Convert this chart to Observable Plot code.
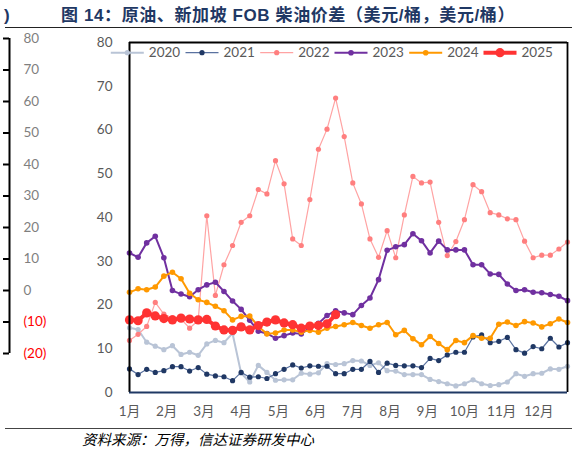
<!DOCTYPE html>
<html><head><meta charset="utf-8">
<script src="https://cdn.jsdelivr.net/npm/d3@7"></script>
<script src="https://cdn.jsdelivr.net/npm/@observablehq/plot@0.6"></script>
<style>
html,body{margin:0;padding:0;background:#fff;}
#wrap{position:relative;width:577px;height:452px;overflow:hidden;}
.abs{position:absolute;}
#title{left:61px;top:5px;font-weight:bold;font-size:17px;letter-spacing:0.6px;line-height:22px;font-family:"Liberation Sans","Noto Sans CJK SC",sans-serif;color:#1F3864;white-space:nowrap;}
#paren{left:4px;top:5px;font-weight:bold;font-size:17px;line-height:22px;font-family:"Liberation Sans",sans-serif;color:#1F3864;}
#topline{left:5px;top:27px;width:567px;height:0;border-top:1px solid #222;}
#botline{left:5px;top:428px;width:567px;height:0;border-top:1px solid #444;}
#source{left:82px;top:430px;font-size:14.5px;line-height:18px;font-style:italic;font-family:"Noto Sans CJK SC",sans-serif;color:#000;white-space:nowrap;}
svg{position:absolute;left:0;top:0;}
</style>
</head><body>
<div id="wrap">
  <div id="paren" class="abs">)</div>
  <div id="title" class="abs">图 14：原油、新加坡 FOB 柴油价差（美元/桶，美元/桶）</div>
  <div id="topline" class="abs"></div>
  <div id="botline" class="abs"></div>
  <div id="source" class="abs">资料来源：万得，信达证券研发中心</div>
</div>
<script>
// ---------- data ----------
const years = ["2020","2021","2022","2023","2024","2025"];
const s2020 = [14.8,14.4,11.5,10.6,9.8,10.7,8.7,9.2,8.5,11.1,11.9,11.4,13.5,4.4,2.4,6.2,4.6,2.8,2.9,2.9,4.4,4.2,4.5,6.6,6.4,6.6,7.3,7.2,6.2,6.8,5.0,4.9,4.1,4.1,4.1,3.0,2.5,2.0,1.5,2.0,2.9,2.0,1.6,1.8,2.4,4.3,3.7,4.3,4.4,5.4,5.3,6.0];
const s2021 = [5.4,4.1,5.3,4.6,5.0,5.9,5.9,4.9,5.7,4.2,3.8,3.6,2.7,4.6,3.5,3.6,3.2,4.3,5.3,6.3,5.6,6.1,6.0,6.0,4.3,4.3,5.3,5.3,7.1,4.6,6.7,6.2,6.1,6.1,5.7,7.8,7.3,8.6,9.2,9.2,12.7,13.2,11.4,11.7,12.6,9.8,9.0,10.5,10.0,12.4,10.4,11.4];
const s2022 = [11.9,13.3,15.1,20.6,17.9,17.1,16.8,14.7,16.5,40.4,22.2,29.2,33.6,38.9,40.4,46.4,45.4,53.0,47.7,35.1,33.6,44.1,55.6,60.2,67.3,58.5,47.9,43.1,35.1,30.9,37.0,30.8,40.6,49.4,47.9,48.1,38.9,31.3,34.5,39.5,47.5,45.9,41.1,40.6,39.7,39.5,34.6,30.8,31.4,31.4,32.8,34.4];
const s2023 = [31.9,30.9,34.2,35.7,30.8,23.3,22.5,21.9,23.5,24.6,25.2,23.1,20.9,19.0,16.5,14.0,13.5,12.4,13.0,13.6,13.4,14.8,15.8,17.6,18.7,18.2,17.8,19.9,21.6,25.8,32.5,33.3,33.8,36.3,34.7,31.9,34.6,32.6,32.6,32.6,29.2,29.2,27.1,27.0,24.8,23.3,23.5,22.9,22.8,22.4,22.0,21.0];
const s2024 = [22.9,23.7,23.5,24.1,26.6,27.5,26.0,22.7,21.2,20.6,19.7,18.7,16.6,17.4,17.5,15.1,13.4,13.6,14.3,14.3,13.8,14.2,13.8,14.7,15.1,15.5,16.0,15.3,14.7,15.5,16.0,13.2,14.2,12.3,10.9,12.8,11.2,9.8,11.9,11.4,13.0,12.4,12.4,15.6,16.1,15.3,16.2,15.9,15.0,15.7,16.8,16.0];
const s2025 = [16.6,16.4,18.2,17.5,16.9,16.6,17.0,16.8,16.6,16.7,15.2,14.3,14.2,15.0,14.3,15.3,16.1,16.6,15.9,15.5,14.7,15.2,15.3,15.7,17.8];
const monthLabels = ["1月","2月","3月","4月","5月","6月","7月","8月","9月","10月","11月","12月"];
const yTicks = [0,10,20,30,40,50,60,70,80];
const sideTicks = [-20,-10,0,10,20,30,40,50,60,70,80];

const series = [s2020,s2021,s2022,s2023,s2024,s2025];
const styles = {
  "2020":{line:"#B9C4D6",dot:"#B9C4D6",sw:2,r:2.6},
  "2021":{line:"#5A72A0",dot:"#203864",sw:1.2,r:2.6},
  "2022":{line:"#FFA3A3",dot:"#FF7F7F",sw:1.2,r:2.6},
  "2023":{line:"#7030A0",dot:"#7030A0",sw:2,r:2.8},
  "2024":{line:"#FF9900",dot:"#FF9900",sw:2,r:2.8},
  "2025":{line:"#FF3333",dot:"#FF3333",sw:4,r:4.6}
};
const rows = years.flatMap((y,k)=>series[k].map((v,i)=>({year:y,week:i,value:v})));
const monthPos = monthLabels.map((m,i)=>i*52/12);

const font = 'Lato,"Noto Sans CJK SC",sans-serif';
const wrap = document.getElementById("wrap");

// ---------- side fragment axis ----------
const side = Plot.plot({
  width:60,height:452,marginLeft:9,marginRight:0,marginTop:38,marginBottom:99,
  style:{fontFamily:font,fontSize:"13.5px",color:"#000",background:"transparent"},
  x:{domain:[0,1],axis:null},
  y:{domain:[-20,80],axis:null},
  marks:[
    Plot.axisY({ticks:sideTicks,anchor:"left",tickSize:6,tickFormat:()=>"",strokeWidth:2,label:null}),
    Plot.ruleX([0],{y1:-20,y2:80,stroke:"#000",strokeWidth:2}),
    Plot.text(sideTicks.filter(d=>d>=0),{y:d=>d,text:d=>String(d),frameAnchor:"left",dx:14,textAnchor:"start",fill:"#7F7F7F"}),
    Plot.text(sideTicks.filter(d=>d<0),{y:d=>d,text:d=>`(${-d})`,frameAnchor:"left",dx:14,textAnchor:"start",fill:"#FF0000"})
  ]
});
wrap.appendChild(side);

// ---------- main chart ----------
const marks = [];
for (const y of years) {
  const st = styles[y];
  const d = rows.filter(r=>r.year===y);
  marks.push(Plot.line(d,{x:"week",y:"value",stroke:st.line,strokeWidth:st.sw}));
  marks.push(Plot.dot(d,{x:"week",y:"value",fill:st.dot,r:st.r}));
}
const main = Plot.plot({
  width:577,height:452,marginLeft:129,marginRight:10,marginTop:42,marginBottom:60,
  style:{fontFamily:font,fontSize:"13.5px",color:"#595959",background:"transparent"},
  x:{domain:[0,51]},
  y:{domain:[0,80]},
  marks:[
    Plot.axisY({ticks:yTicks,tickSize:0,tickPadding:17,label:null,fill:"#595959"}),
    Plot.axisX({ticks:monthPos,tickSize:0,tickPadding:14,label:null,fill:"#595959",
      tickFormat:d=>monthLabels[monthPos.indexOf(d)]}),
    ...marks,
    Plot.ruleX([0],{stroke:"#000",strokeWidth:2}),
    Plot.ruleX([51],{stroke:"#000",strokeWidth:1.8}),
    Plot.ruleY([80],{stroke:"#000",strokeWidth:1.8}),
    Plot.ruleY([0],{stroke:"#1F3864",strokeWidth:2})
  ]
});
wrap.appendChild(main);

// ---------- legend ----------
const legendX = [127.3,202,276.7,351,425.7,500];
const lg = d3.select(wrap).append("svg").attr("width",577).attr("height",70)
  .style("font-family",font).style("font-size","13.5px");
years.forEach((y,k)=>{
  const st = styles[y], cx = legendX[k], cy = 52.7;
  const g = lg.append("g");
  g.append("line").attr("x1",cx-16.5).attr("x2",cx+16.5).attr("y1",cy).attr("y2",cy)
    .attr("stroke",st.line).attr("stroke-width",st.sw);
  g.append("circle").attr("cx",cx).attr("cy",cy).attr("r",st.r).attr("fill",st.dot);
  g.append("text").attr("x",cx+21.5).attr("y",cy).attr("dy","0.35em").attr("fill","#595959").text(y);
});
</script>
</body></html>
